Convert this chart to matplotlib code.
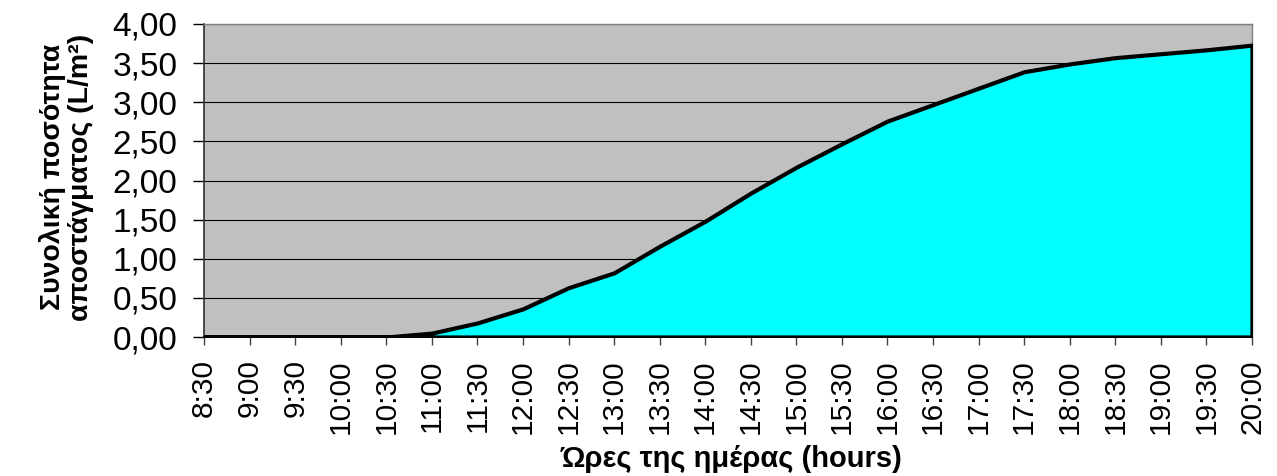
import matplotlib
matplotlib.use("Agg")
import matplotlib.pyplot as plt
from matplotlib.ticker import FuncFormatter
import numpy as np

plt.rcParams['font.family'] = ['Liberation Sans', 'DejaVu Sans']

# Time of day (every 30 minutes) and cumulative distillate quantity (L/m²)
times = ['8:30', '9:00', '9:30', '10:00', '10:30', '11:00', '11:30', '12:00',
         '12:30', '13:00', '13:30', '14:00', '14:30', '15:00', '15:30', '16:00',
         '16:30', '17:00', '17:30', '18:00', '18:30', '19:00', '19:30', '20:00']
cumulative = [0.00, 0.00, 0.00, 0.00, 0.00, 0.05, 0.18, 0.36,
              0.63, 0.82, 1.16, 1.48, 1.84, 2.17, 2.47, 2.76,
              2.97, 3.18, 3.39, 3.49, 3.57, 3.62, 3.67, 3.73]
y_ticks = [0.0, 0.5, 1.0, 1.5, 2.0, 2.5, 3.0, 3.5, 4.0]

y_label = "Συνολική ποσότητα\nαποστάγματος (L/m²)"
x_label = "Ώρες της ημέρας (hours)"

W, H = 1277, 476
fig = plt.figure(figsize=(W / 100, H / 100), dpi=100)
left, right, top, bottom = 204, 1252, 24, 337
ax = fig.add_axes([left / W, 1 - bottom / H, (right - left) / W, (bottom - top) / H])

x = np.arange(len(times))
ax.set_facecolor('#C0C0C0')
ax.set_axisbelow(True)
ax.yaxis.grid(True, color='black', linewidth=0.8)

ax.fill_between(x, cumulative, 0, facecolor='#00FFFF', edgecolor='black',
                linewidth=3.0, joinstyle='miter', zorder=3)

ax.set_xlim(0, len(times) - 1)
ax.set_ylim(0, 4.0)
ax.set_yticks(y_ticks)
ax.yaxis.set_major_formatter(FuncFormatter(lambda v, p: f"{v:.2f}".replace('.', ',')))
ax.set_xticks(x)
ax.set_xticklabels(times, rotation=90, va='top', ha='center')

ax.tick_params(axis='y', direction='out', length=8, width=1.0, pad=11,
               labelsize=24, colors='black')
ax.tick_params(axis='x', direction='out', length=6, width=1.0, pad=10,
               labelsize=21.5, colors='black')
ax.tick_params(axis='x', color='#404040')

for side in ('top', 'right'):
    ax.spines[side].set_color('#808080')
    ax.spines[side].set_linewidth(1.0)
ax.spines['left'].set_color('#303030')
ax.spines['left'].set_linewidth(1.2)
ax.spines['bottom'].set_color('black')
ax.spines['bottom'].set_linewidth(1.2)

fig.text(66 / W, 1 - 177 / H, y_label, rotation=90, ha='center', va='center',
         multialignment='center', fontsize=20.5, fontweight='bold', linespacing=1.1)
fig.text(732 / W, 1 - 467 / H, x_label, ha='center', va='baseline',
         fontsize=21, fontweight='bold')

fig.savefig('out.png', dpi=100, facecolor='white')
